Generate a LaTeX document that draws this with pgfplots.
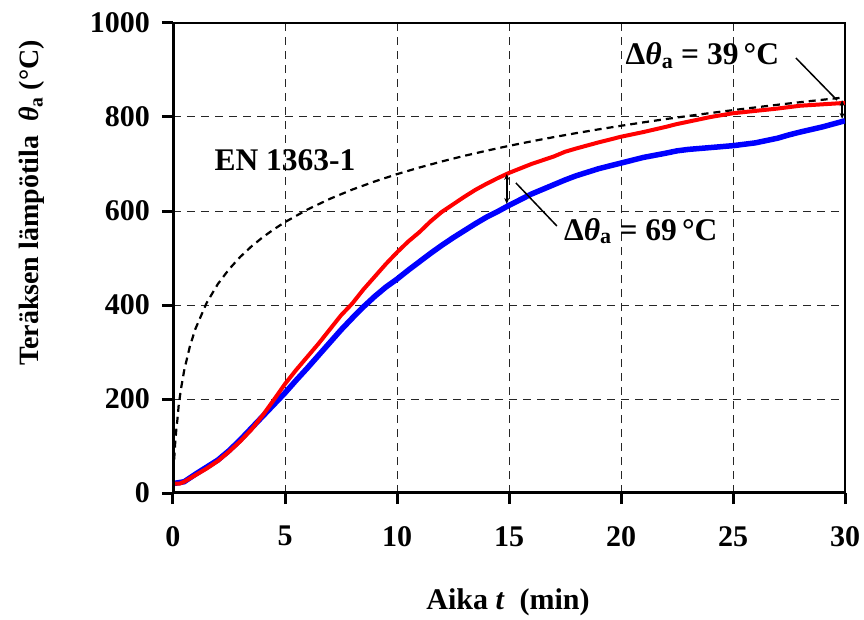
\documentclass[border=0pt]{standalone}
\usepackage{pgfplots}
\pgfplotsset{compat=1.18}
\usetikzlibrary{arrows.meta}
\usepackage{fontspec}
\setmainfont{Liberation Serif}
\newcommand\Ffont{\fontsize{30}{36}\selectfont\bfseries}
\newcommand\Gfont{\fontsize{31.5}{36}\selectfont\bfseries}
\newcommand\Yfont{\fontsize{28}{34}\selectfont\bfseries}
\definecolor{pblue}{RGB}{0,0,255}
\definecolor{pred}{RGB}{255,0,0}
\begin{document}
\begin{tikzpicture}
\useasboundingbox (-173pt,-126pt) rectangle (691pt,493pt);
\begin{axis}[
  at={(0pt,0pt)}, anchor=south west,
  scale only axis, width=672pt, height=470pt,
  xmin=0, xmax=30, ymin=0, ymax=1000,
  xtick={0,5,...,30}, ytick={0,200,...,1000},
  grid=major,
  major grid style={black!85, line width=1pt, dash pattern=on 8pt off 6pt},
  axis line style={line width=2pt},
  tick style={black, line width=3pt},
  major tick length=11pt, tick align=outside,
  xtick pos=bottom, ytick pos=left,
  tick label style={font=\Ffont},
  /pgf/number format/assume math mode=true,
  /pgf/number format/1000 sep={},
  xticklabel style={inner sep=0pt, anchor=north, yshift=-22pt},
  yticklabel style={inner sep=0pt, anchor=east, xshift=-12pt},
]
% EN 1363-1 standard curve
\addplot[black, line width=2.2pt, dash pattern=on 7pt off 5pt] coordinates {
(0,20) (0.05,70.4) (0.1,108.1) (0.15,135.7) (0.2,157.7) (0.25,184.6) (0.35,219.7) (0.5,261.1) (0.75,311.3) (1,349.2) (1.5,404.3) (2,444.5) (2.5,476.0) (3,502.3) (3.5,524.6) (4,543.9) (4.5,561.0) (5,576.4) (6,603.1) (7,625.8) (8,645.5) (9,662.8) (10,678.4) (11,692.5) (12,705.4) (13,717.3) (14,728.3) (15,738.6) (16,748.2) (17,757.2) (18,765.7) (19,773.7) (20,781.3) (21,788.6) (22,795.6) (23,802.2) (24,808.5) (25,814.6) (26,820.4) (27,826.1) (28,831.5) (29,836.7) (30,841.8)
};
% blue
\addplot[pblue, line width=5.5pt] coordinates {
(0,20) (0.5,24) (1,40) (1.5,55) (2,70) (2.5,90) (3,113) (3.5,138) (4,163) (4.5,188) (5,213) (5.5,240) (6,266) (6.5,293) (7,320) (7.5,347) (8,372) (8.5,396) (9,418) (9.5,438) (10,455) (10.5,474) (11,492) (11.5,510) (12,527) (12.5,543) (13,558) (13.5,573) (14,587) (14.5,599) (15,612) (16,636) (17,656) (17.5,666) (18,675) (19,690) (20,702) (21,714) (22,723) (22.5,728) (23,731) (24,735) (25,739) (26,745) (27,755) (27.5,762) (28,768) (29,779) (30,792)
};
% red
\addplot[pred, line width=4pt] coordinates {
(0,20) (0.3,20) (0.5,24) (1,38) (1.5,52) (2,68) (2.5,88) (3,110) (3.5,135) (4,165) (4.5,198) (5,232) (5.5,262) (6,290) (6.5,318) (7,348) (7.5,378) (8,403) (8.5,433) (9,460) (9.5,487) (10,512) (10.5,535) (11,555) (11.5,578) (12,598) (12.5,614) (13,630) (13.5,645) (14,658) (14.5,670) (15,681) (16,700) (17,716) (17.5,726) (18,733) (19,746) (20,758) (21,768) (22,779) (22.5,785) (23,790) (24,800) (25,808) (26,813) (27,818) (27.5,821) (28,824) (29,827) (30,830)
};
% annotations
\draw[black, line width=1.5pt, {Stealth[length=6pt,width=5pt]}-{Stealth[length=6pt,width=5pt]}] (axis cs:14.9,679) -- (axis cs:14.9,615);
\draw[black, line width=1.5pt] (axis cs:15.31,659.6) -- (axis cs:17.14,568);
\draw[black, line width=1.5pt, {Stealth[length=6pt,width=5pt]}-{Stealth[length=6pt,width=5pt]}] (axis cs:29.87,836) -- (axis cs:29.87,796);
\draw[black, line width=1.5pt] (axis cs:27.81,925.5) -- (axis cs:29.64,836);
\node[font=\Gfont, inner sep=0pt] at (axis cs:5.0,707) {EN 1363-1};
\node[font=\Gfont, inner sep=0pt, anchor=base west] at (axis cs:20.2,911) {Δ\textit{θ}\textsubscript{a} = 39\,°C};
\node[font=\Gfont, inner sep=0pt, anchor=base west] at (axis cs:17.45,538) {Δ\textit{θ}\textsubscript{a} = 69\,°C};
% thicker left and bottom axis lines
\draw[black, line width=3.2pt] (rel axis cs:0,1) -- (rel axis cs:0,0) -- (rel axis cs:1,0);
\end{axis}
\node[font=\Ffont, inner sep=0pt] at (335pt,-109pt) {Aika \textit{t}\ \ (min)};
\node[font=\Yfont, inner sep=0pt, rotate=90] at (-141pt,290pt) {Teräksen lämpötila\ \ \textit{θ}\textsubscript{a} (°C)};
\end{tikzpicture}
\end{document}
